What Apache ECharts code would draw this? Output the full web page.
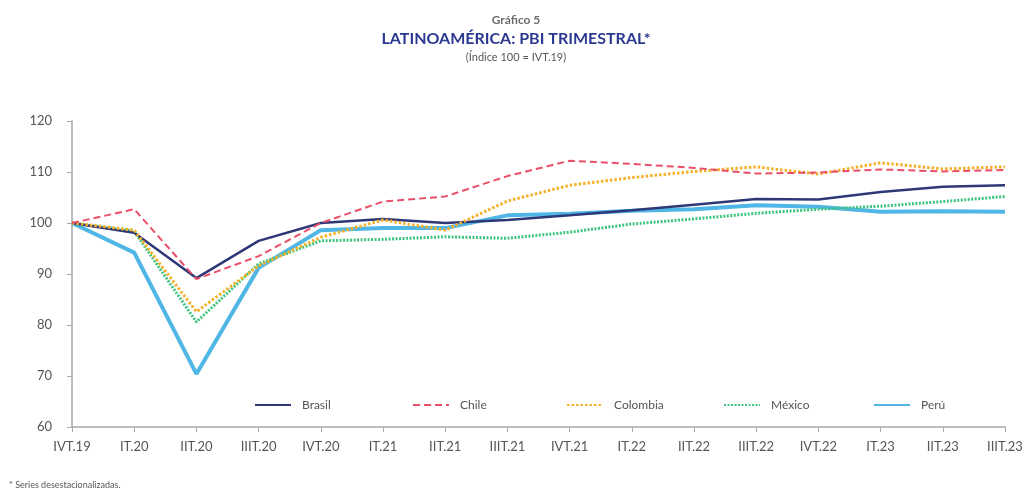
<!DOCTYPE html>
<html>
<head>
<meta charset="utf-8">
<script src="https://cdn.jsdelivr.net/npm/echarts@6/dist/echarts.min.js"></script>
<style>
  html, body { margin: 0; padding: 0; background: #fff; }
  #chart { width: 1032px; height: 491px; }
</style>
</head>
<body>
<div id="chart"></div>
<script>
// Trimestres
const quarters = ['IVT.19', 'IT.20', 'IIT.20', 'IIIT.20', 'IVT.20', 'IT.21', 'IIT.21', 'IIIT.21',
  'IVT.21', 'IT.22', 'IIT.22', 'IIIT.22', 'IVT.22', 'IT.23', 'IIT.23', 'IIIT.23'];

// Índice 100 = IVT.19, series desestacionalizadas
const brasil   = [100, 98.1, 89.2, 96.5, 100.0, 100.8, 100.0, 100.6, 101.5, 102.5, 103.6, 104.7, 104.6, 106.1, 107.1, 107.4];
const chile    = [100, 102.7, 89.0, 93.5, 100.0, 104.2, 105.2, 109.2, 112.2, 111.6, 110.8, 109.7, 109.9, 110.5, 110.1, 110.4];
const colombia = [100, 98.6, 82.6, 91.6, 97.2, 100.6, 98.6, 104.3, 107.4, 108.9, 110.1, 111.0, 109.6, 111.8, 110.6, 111.0];
const mexico   = [100, 98.4, 80.6, 92.0, 96.5, 96.8, 97.3, 97.0, 98.2, 99.8, 100.8, 101.9, 102.7, 103.3, 104.2, 105.2];
const peru     = [100, 94.2, 70.4, 91.2, 98.6, 99.0, 99.0, 101.5, 101.8, 102.4, 102.7, 103.5, 103.2, 102.2, 102.3, 102.2];

const yTicks = { min: 60, max: 120, interval: 10 };

// Legend entries and where each one starts along the bottom row
const legendNames = ['Brasil', 'Chile', 'Colombia', 'México', 'Perú'];
const legendLeft  = [249, 407, 561, 718, 868];

const chart = echarts.init(document.getElementById('chart'), null, { renderer: 'canvas' });

const font = 'Lato, "Open Sans", sans-serif';

function lineSeries(name, data, color, width, type, z) {
  return {
    name, type: 'line', data, symbol: 'none', smooth: false, z,
    lineStyle: { color, width, type },
    itemStyle: { color },
    emphasis: { disabled: true }
  };
}

chart.setOption({
  animation: false,
  backgroundColor: '#ffffff',
  title: [
    { text: 'Gráfico 5', left: 'center', top: 9,
      textStyle: { fontFamily: font, fontSize: 12, fontWeight: 'bold', color: '#6d6e71' } },
    { text: 'LATINOAMÉRICA: PBI TRIMESTRAL*', left: 'center', top: 26,
      textStyle: { fontFamily: font, fontSize: 16, fontWeight: 'bold', color: '#2b3990' } },
    { text: '(Índice 100 = IVT.19)', left: 'center', top: 47,
      textStyle: { fontFamily: font, fontSize: 11, fontWeight: 'normal', color: '#58595b' } },
    { text: '* Series desestacionalizadas.', left: 4, top: 476,
      textStyle: { fontFamily: font, fontSize: 9, fontWeight: 'normal', color: '#58595b' } }
  ],
  legend: legendNames.map((name, i) => ({
    top: 394, left: legendLeft[i],
    itemWidth: 36, itemHeight: 10,
    itemStyle: { opacity: 0 },
    textStyle: { fontFamily: font, fontSize: 12, color: '#555', padding: [0, 0, 0, 6] },
    data: [name]
  })),
  grid: { left: 72, right: 27, top: 121, bottom: 64 },
  xAxis: {
    type: 'category', data: quarters, boundaryGap: false,
    axisLine: { lineStyle: { color: '#a7a9ac', width: 1.5 } },
    axisTick: { show: true, alignWithLabel: true, length: 5, lineStyle: { color: '#a7a9ac' } },
    axisLabel: { interval: 0, margin: 13, fontFamily: font, fontSize: 13, color: '#555' },
    splitLine: { show: false }
  },
  yAxis: {
    type: 'value', min: yTicks.min, max: yTicks.max, interval: yTicks.interval,
    axisLine: { show: true, lineStyle: { color: '#a7a9ac', width: 1.5 } },
    axisTick: { show: true, length: 5, lineStyle: { color: '#a7a9ac' } },
    axisLabel: { margin: 20, fontFamily: font, fontSize: 13, color: '#555' },
    splitLine: { show: false }
  },
  series: [
    lineSeries('Perú', peru, '#4fb6e6', 4, 'solid', 1),
    lineSeries('México', mexico, '#3ec47e', 3, [2, 1.5], 2),
    lineSeries('Brasil', brasil, '#2e3877', 2.5, 'solid', 3),
    lineSeries('Colombia', colombia, '#f6b12a', 3, [2.5, 2], 4),
    lineSeries('Chile', chile, '#e94f69', 2, [7, 4], 5)
  ]
});
</script>
</body>
</html>
